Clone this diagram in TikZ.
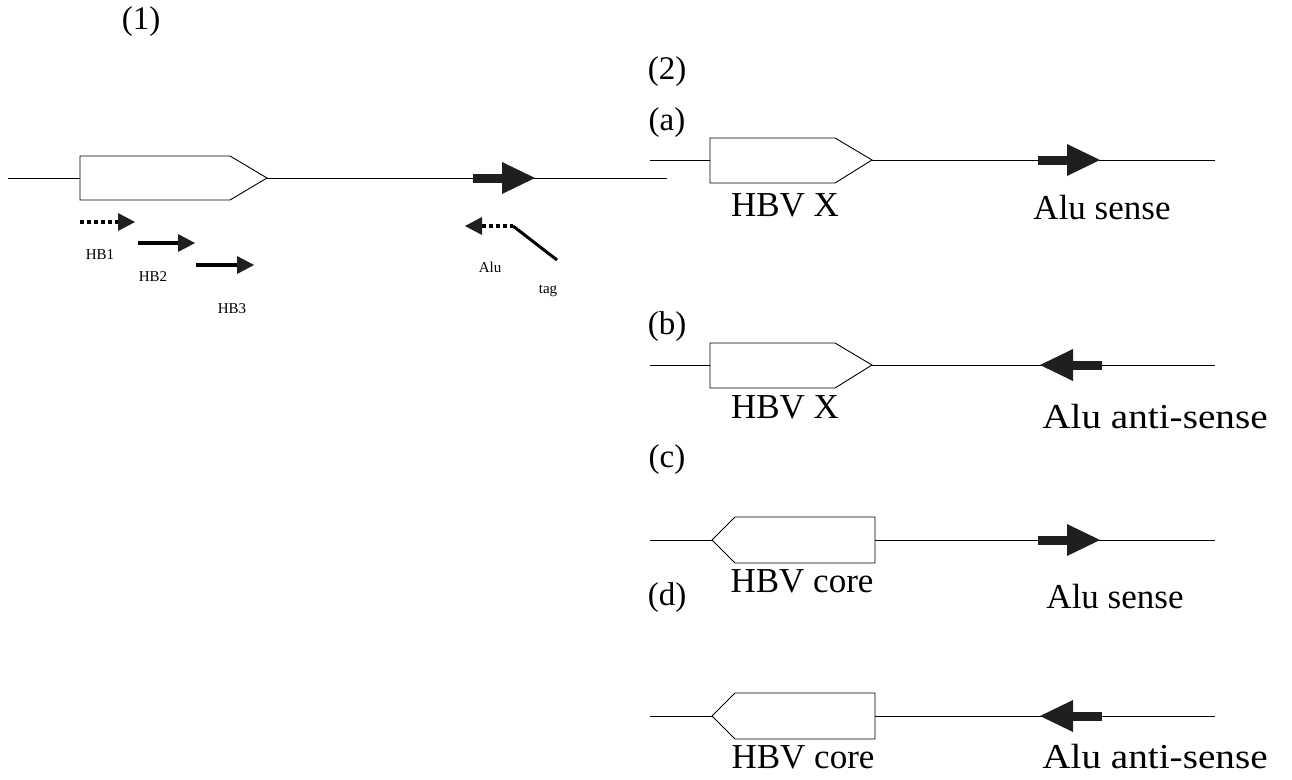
\documentclass[tikz,border=0pt]{standalone}
\usepackage{fontspec}
\setmainfont{Liberation Serif}
\begin{document}
\begin{tikzpicture}[x=1pt,y=-1pt,
  dna/.style={line width=0.9pt},
  gene/.style={draw,line width=0.9pt,fill=white},
  big/.style={font=\fontsize{35}{36}\selectfont,inner sep=0pt},
  panel/.style={font=\fontsize{33}{34}\selectfont,inner sep=0pt},
  small/.style={font=\fontsize{15}{16}\selectfont,inner sep=0pt},
  fwd/.pic={\fill[black!88] (-62,-4.5) rectangle (-31,4.5); \fill[black!88] (-33,-16)--(0,0)--(-33,16)--cycle;},
  smallfwd/.pic={\fill[black!88] (-17,-9)--(0,0)--(-17,9)--cycle;}
]
\useasboundingbox (0,0) rectangle (1292,779);
% ---------- panel (1)
\node[panel] (l1) at (141,22) {(1)};
\draw[dna] (8,178) -- (667,178);
\draw[gene] (80,156) -- (230,156) -- (267,178) -- (230,200) -- (80,200) -- cycle;
\pic at (535,178) {fwd};
% HB primers
\draw[line width=4pt,dash pattern=on 4pt off 3pt] (80,222) -- (118,222);
\pic at (135,222) {smallfwd};
\draw[line width=4pt] (138,243) -- (178,243);
\pic at (195,243) {smallfwd};
\draw[line width=4pt] (196,265) -- (237,265);
\pic at (254,265) {smallfwd};
\node[small] (hb1) at (100,255) {HB1};
\node[small] (hb2) at (153,277) {HB2};
\node[small] (hb3) at (232,309) {HB3};
% Alu-tag primer
\draw[line width=4pt,dash pattern=on 4pt off 3pt] (482,226) -- (513,226);
\pic[rotate=180] at (465,226) {smallfwd};
\draw[line width=3pt] (513,226) -- (557,260);
\node[small] (alu) at (490,267) {Alu};
\node[small] (tag) at (548,291) {tag};
% ---------- panel (2)
\node[panel] (l2) at (667,72) {(2)};
\node[panel] (la) at (667,123) {(a)};
\draw[dna] (650,160) -- (1215,160);
\draw[gene] (710,138) -- (835,138) -- (872,160) -- (835,183) -- (710,183) -- cycle;
\pic at (1100,160) {fwd};
\node[big] (xa) at (785,205) {HBV X};
\node[big] (sa) at (1102,208) {Alu sense};
% (b)
\node[panel] (lb) at (667,327) {(b)};
\draw[dna] (650,365) -- (1215,365);
\draw[gene] (710,343) -- (835,343) -- (872,365) -- (835,388) -- (710,388) -- cycle;
\pic[rotate=180] at (1040,365) {fwd};
\node[big] (xb) at (785,407) {HBV X};
\node[big,xscale=1.12] (sb) at (1155,417) {Alu anti-sense};
% (c)
\node[panel] (lc) at (667,460) {(c)};
\draw[dna] (650,540) -- (1215,540);
\draw[gene] (875,517) -- (735,517) -- (712,540) -- (735,563) -- (875,563) -- cycle;
\pic at (1100,540) {fwd};
\node[big] (cc) at (802,581) {HBV core};
\node[panel] (ld) at (667,598) {(d)};
\node[big] (sc) at (1115,597) {Alu sense};
% (d)
\draw[dna] (650,716) -- (1215,716);
\draw[gene] (875,693) -- (735,693) -- (712,716) -- (735,739) -- (875,739) -- cycle;
\pic[rotate=180] at (1040,716) {fwd};
\node[big] (cd) at (803,757) {HBV core};
\node[big,xscale=1.12] (sd) at (1155,757) {Alu anti-sense};
\end{tikzpicture}
\end{document}
